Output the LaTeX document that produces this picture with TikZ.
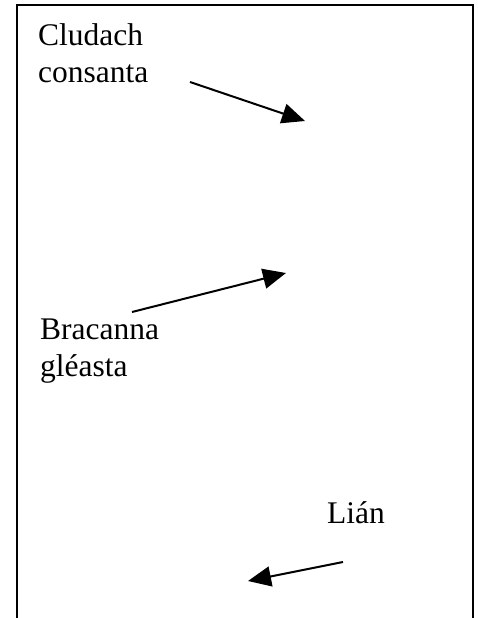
\documentclass[tikz,border=0pt]{standalone}
\usepackage{fontspec}
\setmainfont{Liberation Serif}
\usetikzlibrary{arrows.meta,positioning}

\begin{document}
\begin{tikzpicture}[
x=1pt, y=-1pt,
label/.style={
    inner sep=0pt,
    anchor=base west,
    align=left,
    font=\fontsize{31.5}{37}\selectfont
},
frame/.style={
    line width=2pt
},
pointer/.style={
    line width=2pt,
    -{Triangle[length=23pt,width=20pt]}
}
]
\useasboundingbox (0,0) rectangle (478,618);

% open frame
\draw[frame] (17,618) -- (17,5) -- (473,5) -- (473,618);

% base of the last line
\node[label] (cludach) at (38,82) {Cludach\\consanta};
\node[label] (bracanna) at (40,376) {Bracanna\\gl\'easta};
\node[label] (lian) at (327,523) {Li\'an};

\coordinate (c1) at (190,82);
\coordinate (c2) at (305,121);
\coordinate (b1) at (132,312);
\coordinate (b2) at (286,273);
\coordinate (l1) at (343,562);
\coordinate (l2) at (248,581);

\draw[pointer] (c1) -- (c2);
\draw[pointer] (b1) -- (b2);
\draw[pointer] (l1) -- (l2);
\end{tikzpicture}
\end{document}
